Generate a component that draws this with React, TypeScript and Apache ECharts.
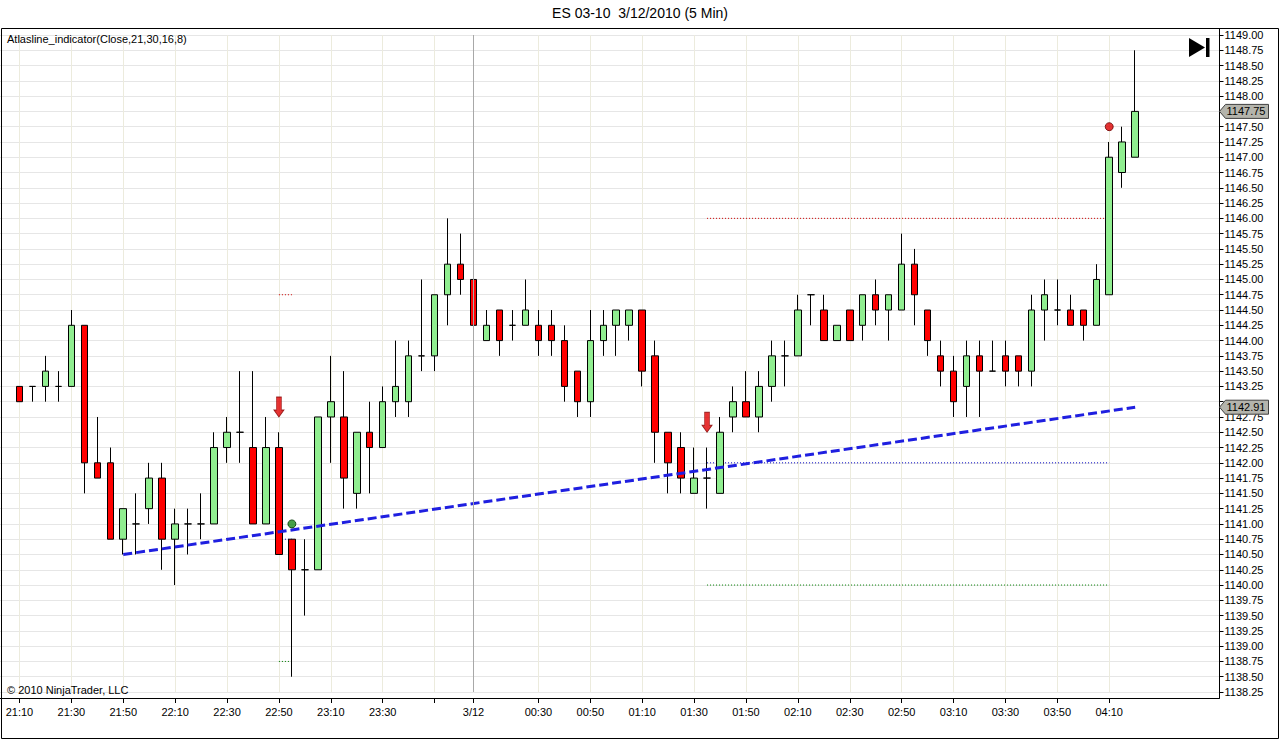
import React, { useEffect, useRef } from "react";
import * as echarts from "echarts";

const times = [
  "21:10","21:15","21:20","21:25","21:30","21:35","21:40","21:45","21:50","21:55",
  "22:00","22:05","22:10","22:15","22:20","22:25","22:30","22:35","22:40","22:45",
  "22:50","22:55","23:00","23:05","23:10","23:15","23:20","23:25","23:30","23:35",
  "23:40","23:45","23:50","23:55","00:00","00:05","00:10","00:15","00:20","00:25",
  "00:30","00:35","00:40","00:45","00:50","00:55","01:00","01:05","01:10","01:15",
  "01:20","01:25","01:30","01:35","01:40","01:45","01:50","01:55","02:00","02:05",
  "02:10","02:15","02:20","02:25","02:30","02:35","02:40","02:45","02:50","02:55",
  "03:00","03:05","03:10","03:15","03:20","03:25","03:30","03:35","03:40","03:45",
  "03:50","03:55","04:00","04:05","04:10","04:15","04:20",
];

// [open, close, low, high]
const ohlc = [
  [1143.25, 1143.0, 1143.0, 1143.25],
  [1143.25, 1143.25, 1143.0, 1143.25],
  [1143.25, 1143.5, 1143.0, 1143.75],
  [1143.25, 1143.25, 1143.0, 1143.5],
  [1143.25, 1144.25, 1143.25, 1144.5],
  [1144.25, 1142.0, 1141.5, 1144.25],
  [1142.0, 1141.75, 1141.75, 1142.75],
  [1142.0, 1140.75, 1140.75, 1142.25],
  [1140.75, 1141.25, 1140.5, 1141.25],
  [1141.0, 1141.0, 1140.5, 1141.5],
  [1141.25, 1141.75, 1141.0, 1142.0],
  [1141.75, 1140.75, 1140.25, 1142.0],
  [1140.75, 1141.0, 1140.0, 1141.25],
  [1141.0, 1141.0, 1140.5, 1141.25],
  [1141.0, 1141.0, 1140.75, 1141.5],
  [1141.0, 1142.25, 1141.0, 1142.5],
  [1142.25, 1142.5, 1142.0, 1142.75],
  [1142.5, 1142.5, 1142.0, 1143.5],
  [1142.25, 1141.0, 1141.0, 1143.5],
  [1141.0, 1142.25, 1141.0, 1142.75],
  [1142.25, 1140.5, 1140.5, 1142.5],
  [1140.75, 1140.25, 1138.5, 1140.75],
  [1140.25, 1140.25, 1139.5, 1140.75],
  [1140.25, 1142.75, 1140.25, 1142.75],
  [1142.75, 1143.0, 1142.0, 1143.75],
  [1142.75, 1141.75, 1141.25, 1143.5],
  [1141.5, 1142.5, 1141.25, 1142.5],
  [1142.5, 1142.25, 1141.5, 1143.0],
  [1142.25, 1143.0, 1142.25, 1143.25],
  [1143.0, 1143.25, 1142.75, 1144.0],
  [1143.0, 1143.75, 1142.75, 1144.0],
  [1143.75, 1143.75, 1143.5, 1145.0],
  [1143.75, 1144.75, 1143.5, 1144.75],
  [1144.75, 1145.25, 1144.25, 1146.0],
  [1145.25, 1145.0, 1144.75, 1145.75],
  [1145.0, 1144.25, 1144.0, 1145.5],
  [1144.0, 1144.25, 1144.0, 1144.5],
  [1144.5, 1144.0, 1143.75, 1144.5],
  [1144.25, 1144.25, 1144.0, 1144.5],
  [1144.25, 1144.5, 1144.25, 1145.0],
  [1144.25, 1144.0, 1143.75, 1144.5],
  [1144.25, 1144.0, 1143.75, 1144.5],
  [1144.0, 1143.25, 1143.0, 1144.25],
  [1143.5, 1143.0, 1142.75, 1143.5],
  [1143.0, 1144.0, 1142.75, 1144.5],
  [1144.0, 1144.25, 1143.75, 1144.5],
  [1144.25, 1144.5, 1143.75, 1144.5],
  [1144.25, 1144.5, 1144.0, 1144.5],
  [1144.5, 1143.5, 1143.25, 1144.5],
  [1143.75, 1142.5, 1142.0, 1144.0],
  [1142.5, 1142.0, 1141.5, 1142.5],
  [1142.25, 1141.75, 1141.5, 1142.5],
  [1141.5, 1141.75, 1141.5, 1142.25],
  [1141.75, 1141.75, 1141.25, 1142.25],
  [1141.5, 1142.5, 1141.5, 1142.75],
  [1142.75, 1143.0, 1142.5, 1143.25],
  [1143.0, 1142.75, 1142.75, 1143.5],
  [1142.75, 1143.25, 1142.5, 1143.5],
  [1143.25, 1143.75, 1143.0, 1144.0],
  [1143.75, 1143.75, 1143.25, 1144.0],
  [1143.75, 1144.5, 1143.75, 1144.75],
  [1144.75, 1144.75, 1144.25, 1144.75],
  [1144.5, 1144.0, 1144.0, 1144.75],
  [1144.0, 1144.25, 1144.0, 1144.25],
  [1144.5, 1144.0, 1144.0, 1144.5],
  [1144.25, 1144.75, 1144.0, 1144.75],
  [1144.75, 1144.5, 1144.25, 1145.0],
  [1144.5, 1144.75, 1144.0, 1144.75],
  [1144.5, 1145.25, 1144.5, 1145.75],
  [1145.25, 1144.75, 1144.25, 1145.5],
  [1144.5, 1144.0, 1143.75, 1144.5],
  [1143.75, 1143.5, 1143.25, 1144.0],
  [1143.5, 1143.0, 1142.75, 1143.75],
  [1143.25, 1143.75, 1142.75, 1144.0],
  [1143.75, 1143.5, 1142.75, 1144.0],
  [1143.5, 1143.5, 1143.5, 1144.0],
  [1143.75, 1143.5, 1143.25, 1144.0],
  [1143.75, 1143.5, 1143.25, 1143.75],
  [1143.5, 1144.5, 1143.25, 1144.75],
  [1144.5, 1144.75, 1144.0, 1145.0],
  [1144.5, 1144.5, 1144.25, 1145.0],
  [1144.5, 1144.25, 1144.25, 1144.75],
  [1144.5, 1144.25, 1144.0, 1144.5],
  [1144.25, 1145.0, 1144.25, 1145.25],
  [1144.75, 1147.0, 1144.75, 1147.25],
  [1146.75, 1147.25, 1146.5, 1147.5],
  [1147.0, 1147.75, 1147.0, 1148.75],
];

const Y_MIN = 1138.25;
const Y_MAX = 1149.0;
const Y_STEP = 0.25;

const labelTimes = [
  "21:10","21:30","21:50","22:10","22:30","22:50","23:10","23:30",
  "00:30","00:50","01:10","01:30","01:50","02:10","02:30","02:50",
  "03:10","03:30","03:50","04:10",
];
const tickOnlyTimes = ["23:50"];
const dayBreakTime = "00:05";
const dayLabel = "3/12";

const trendLine = [["21:50", 1140.5], ["04:20", 1142.91]];
const arrowSignals = [["22:50", 1142.75], ["01:35", 1142.5]];
const greenDots = [["22:55", 1141.0]];
const redDots = [["04:10", 1147.5]];
const resistanceShort = [["22:50", 1144.75], ["22:55", 1144.75]];
const pivotShort = [["22:50", 1140.75], ["22:55", 1140.75]];
const supportShort = [["22:50", 1138.75], ["22:55", 1138.75]];
const resistanceLong = [["01:35", 1146.0], ["04:10", 1146.0]];
const pivotLong = [["01:35", 1142.0], ["04:10", 1142.0]];
const supportLong = [["01:35", 1140.0], ["04:10", 1140.0]];
const lastPrice = 1147.75;
const trendLast = 1142.91;
// axis labels hidden behind the price tags in the reference
const hiddenAxisLabels = [1147.75, 1143.0];

const FONT = "Liberation Sans";
const GRID_LEFT = -2.5;
const GRID_RIGHT = 60.5;
const AXIS_X = 1280 - GRID_RIGHT;

export default function App() {
  const ref = useRef<HTMLDivElement>(null);
  useEffect(() => {
    document.body.style.margin = "0";
    if (!ref.current) return;
    const chart = echarts.init(ref.current, null, { renderer: "svg" });

    const lead = ["pad_a"];
    const trail = ["pad_b", "pad_c", "pad_d", "pad_e", "pad_f", "pad_g"];
    const categories = [...lead, ...times, ...trail];
    const candleData = [["-", "-", "-", "-"], ...ohlc];

    const isTick = (v: string) =>
      labelTimes.includes(v) || tickOnlyTimes.includes(v) || v === dayBreakTime;
    const isLabel = (v: string) => labelTimes.includes(v) || v === dayBreakTime;

    const dotted = (data: any[], color: string) => ({
      type: "line",
      data,
      symbol: "none",
      silent: true,
      z: 1,
      lineStyle: { color, width: 1, type: [1, 2] },
    });

    chart.setOption({
      animation: false,
      backgroundColor: "#ffffff",
      grid: { left: GRID_LEFT, right: GRID_RIGHT, top: 35, bottom: 48 },
      xAxis: {
        type: "category",
        data: categories,
        boundaryGap: true,
        offset: 6,
        axisLine: { show: true, lineStyle: { color: "#000", width: 1 } },
        axisTick: {
          show: true,
          alignWithLabel: true,
          length: 5,
          lineStyle: { color: "#000" },
          interval: (_i: number, v: string) => isTick(v),
        },
        axisLabel: {
          color: "#000",
          fontFamily: FONT,
          fontSize: 11,
          margin: 8,
          interval: (_i: number, v: string) => isLabel(v),
          formatter: (v: string) => (v === dayBreakTime ? dayLabel : v),
        },
        splitLine: {
          show: true,
          alignWithLabel: true,
          interval: (_i: number, v: string) => isTick(v),
          lineStyle: { color: "#ecebdd", width: 1 },
        },
      },
      yAxis: {
        type: "value",
        position: "right",
        min: Y_MIN,
        max: Y_MAX,
        interval: Y_STEP,
        axisLine: { show: false },
        axisTick: { show: true, length: 4, lineStyle: { color: "#000" } },
        axisLabel: {
          color: "#000",
          fontFamily: FONT,
          fontSize: 11,
          margin: 5,
          formatter: (v: number) =>
            hiddenAxisLabels.some((h) => Math.abs(h - v) < 1e-6) ? "" : v.toFixed(2),
        },
        splitLine: { show: true, lineStyle: { color: "#e6e6e6", width: 1 } },
      },
      series: [
        dotted(resistanceShort, "#d00000"),
        dotted(pivotShort, "#0000c0"),
        dotted(supportShort, "#008000"),
        dotted(resistanceLong, "#d00000"),
        dotted(pivotLong, "#0000c0"),
        dotted(supportLong, "#008000"),
        {
          type: "line",
          data: [],
          silent: true,
          markLine: {
            silent: true,
            symbol: "none",
            label: { show: false },
            lineStyle: { color: "#a8a8a8", width: 1, type: "solid" },
            data: [{ xAxis: dayBreakTime }],
          },
        },
        {
          type: "candlestick",
          data: candleData,
          barWidth: 7,
          z: 3,
          itemStyle: {
            color: "#90ee90",
            color0: "#ff0000",
            borderColor: "#000000",
            borderColor0: "#000000",
            borderColorDoji: "#000000",
            borderWidth: 1,
          },
        },
        {
          type: "line",
          data: trendLine,
          symbol: "none",
          z: 4,
          lineStyle: { color: "#1f1fe0", width: 3, type: [9, 4] },
        },
        {
          type: "scatter",
          data: arrowSignals,
          z: 5,
          symbol: "path://M2.5,0 L7.5,0 L7.5,13 L10,13 L5,20 L0,13 L2.5,13 Z",
          symbolSize: [10, 20],
          symbolOffset: [0, "-50%"],
          itemStyle: { color: "#e00000", borderColor: "#800000", borderWidth: 0.8 },
        },
        {
          type: "scatter",
          data: greenDots,
          z: 5,
          symbol: "circle",
          symbolSize: 8,
          itemStyle: { color: "#1a8a1a", borderColor: "#003300", borderWidth: 1 },
        },
        {
          type: "scatter",
          data: redDots,
          z: 5,
          symbol: "circle",
          symbolSize: 8,
          itemStyle: { color: "#dd0000", borderColor: "#660000", borderWidth: 1 },
        },
      ],
    });

    const tag = (price: number) => {
      const y = chart.convertToPixel({ yAxisIndex: 0 }, price) as number;
      const x0 = AXIS_X;
      return [
        {
          type: "polygon",
          z: 100,
          shape: {
            points: [
              [x0, y],
              [x0 + 6, y - 7],
              [x0 + 49, y - 7],
              [x0 + 49, y + 7],
              [x0 + 6, y + 7],
            ],
          },
          style: { fill: "#b4b4ac", stroke: "#404040", lineWidth: 1 },
        },
        {
          type: "text",
          z: 101,
          x: x0 + 7,
          y: y,
          style: {
            text: price.toFixed(2),
            fill: "#000",
            font: `11px "${FONT}"`,
            verticalAlign: "middle",
          },
        },
      ];
    };

    chart.setOption({
      graphic: {
        elements: [
          {
            type: "text",
            x: 640,
            y: 13,
            style: {
              text: "ES 03-10  3/12/2010 (5 Min)",
              fill: "#000",
              font: `14px "${FONT}"`,
              align: "center",
              verticalAlign: "middle",
            },
          },
          {
            type: "text",
            x: 7,
            y: 39,
            style: {
              text: "Atlasline_indicator(Close,21,30,16,8)",
              fill: "#000",
              font: `11px "${FONT}"`,
              verticalAlign: "middle",
            },
          },
          {
            type: "text",
            x: 7,
            y: 690,
            style: {
              text: "\u00a9 2010 NinjaTrader, LLC",
              fill: "#000",
              font: `11px "${FONT}"`,
              verticalAlign: "middle",
            },
          },
          {
            type: "rect",
            z: 50,
            shape: { x: 1.5, y: 28.5, width: 1277, height: 710 },
            style: { fill: "none", stroke: "#000", lineWidth: 1 },
          },
          {
            type: "line",
            z: 50,
            shape: { x1: AXIS_X, y1: 28, x2: AXIS_X, y2: 698 },
            style: { stroke: "#000", lineWidth: 1 },
          },
          {
            type: "polygon",
            z: 50,
            shape: { points: [[1189, 38], [1205, 47.5], [1189, 57]] },
            style: { fill: "#000" },
          },
          {
            type: "rect",
            z: 50,
            shape: { x: 1206, y: 38, width: 3.5, height: 19 },
            style: { fill: "#000" },
          },
          ...tag(lastPrice),
          ...tag(trendLast),
        ],
      },
    });

    return () => chart.dispose();
  }, []);
  return <div ref={ref} style={{ width: 1280, height: 740 }} />;
}
